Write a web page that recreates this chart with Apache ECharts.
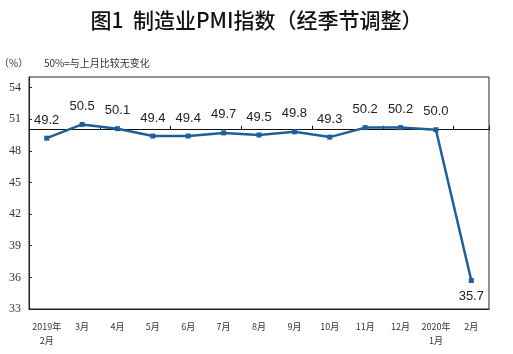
<!DOCTYPE html>
<html>
<head>
<meta charset="utf-8">
<script src="https://cdn.jsdelivr.net/npm/echarts@6/dist/echarts.min.js"></script>
<style>
  html, body { margin: 0; padding: 0; background: #fff; }
  #main { width: 513px; height: 354px; }
</style>
</head>
<body>
<div id="main"></div>
<script>
// 月份
var months = ['2019年\n2月', '3月', '4月', '5月', '6月', '7月', '8月', '9月', '10月', '11月', '12月', '2020年\n1月', '2月']
// PMI 指数
var pmiValues = [49.2, 50.5, 50.1, 49.4, 49.4, 49.7, 49.5, 49.8, 49.3, 50.2, 50.2, 50.0, 35.7]
// 纵轴刻度
var yMin = 33
var yMax = 55
var yStep = 3
var baseLine = 50

var gridTop = 77
var gridBottom = 45
var gridHeight = 354 - gridTop - gridBottom

var myChart = echarts.init(document.getElementById('main'))

// 最后一个点的标签放在下方
var seriesData = pmiValues.map(function (v, i) {
  if (i === pmiValues.length - 1) {
    return { value: v, label: { position: 'bottom', distance: 7 } }
  }
  return v
})

var options = {
  backgroundColor: '#fff',
  animation: false,
  title: [
    {
      text: '图1  制造业PMI指数（经季节调整）',
      left: 'center',
      top: 5,
      textStyle: {
        fontFamily: 'Noto Sans CJK SC',
        fontSize: 21,
        fontWeight: 500,
        color: '#111'
      }
    },
    {
      text: '（%）',
      left: -6,
      top: 53,
      textStyle: { fontFamily: 'Noto Sans CJK SC', fontSize: 10, fontWeight: 'normal', color: '#333' }
    },
    {
      text: '50%=与上月比较无变化',
      left: 39,
      top: 53,
      textStyle: { fontFamily: 'Noto Sans CJK SC', fontSize: 10, fontWeight: 'normal', color: '#333' }
    }
  ],
  grid: {
    left: 29,
    right: 24,
    top: gridTop,
    bottom: gridBottom,
    show: true,
    borderColor: '#222',
    borderWidth: 1
  },
  xAxis: [
    {
      type: 'category',
      data: months,
      boundaryGap: true,
      axisLine: { show: true, lineStyle: { color: '#222', width: 1 } },
      axisTick: { show: false },
      axisLabel: {
        interval: 0,
        margin: 11,
        fontFamily: 'Noto Sans CJK SC',
        fontSize: 9,
        lineHeight: 14,
        color: '#333'
      }
    },
    {
      // 50 处的横线和刻度
      type: 'category',
      data: months,
      position: 'bottom',
      offset: -(baseLine - yMin) / (yMax - yMin) * gridHeight,
      boundaryGap: true,
      axisLine: { show: true, lineStyle: { color: '#111', width: 1 } },
      axisTick: { show: true, inside: true, length: 4, lineStyle: { color: '#111' } },
      axisLabel: { show: false }
    }
  ],
  yAxis: {
    type: 'value',
    min: yMin,
    max: yMax,
    interval: yStep,
    axisLine: { show: true, lineStyle: { color: '#222', width: 1 } },
    axisTick: { show: true, inside: true, length: 3, lineStyle: { color: '#222' } },
    splitLine: { show: false },
    axisLabel: {
      showMaxLabel: false,
      margin: 8,
      fontFamily: 'Liberation Serif',
      fontSize: 12,
      color: '#333'
    }
  },
  series: [
    {
      type: 'line',
      xAxisIndex: 0,
      data: seriesData,
      symbol: 'rect',
      symbolSize: 5,
      lineStyle: { color: '#1f5f98', width: 2.5 },
      itemStyle: { color: '#1f5f98' },
      label: {
        show: true,
        position: 'top',
        distance: 9,
        fontFamily: 'Liberation Sans',
        fontSize: 13,
        color: '#222',
        formatter: function (p) {
          return Number(p.value).toFixed(1)
        }
      }
    }
  ]
}

myChart.setOption(options)
</script>
</body>
</html>
